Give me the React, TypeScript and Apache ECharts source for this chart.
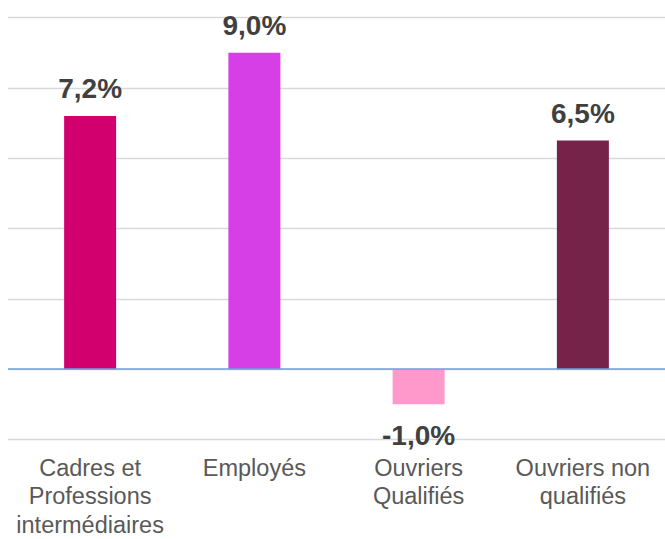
import React, { useEffect, useRef } from "react";
import * as echarts from "echarts";

const categories = [
  "Cadres et\nProfessions\nintermédiaires",
  "Employés",
  "Ouvriers\nQualifiés",
  "Ouvriers non\nqualifiés",
];
const values = [7.2, 9.0, -1.0, 6.5];
const barColors = ["#D2006F", "#D63FE6", "#FF99CC", "#76234A"];
const yMin = -2;
const yMax = 10;
const yStep = 2;

const fmt = (v: number) => v.toFixed(1).replace(".", ",") + "%";

export default function App() {
  const ref = useRef<HTMLDivElement>(null);
  useEffect(() => {
    if (!ref.current) return;
    const chart = echarts.init(ref.current, null, { renderer: "svg", width: 665, height: 539 });
    chart.setOption({
      animation: false,
      grid: { left: 8, width: 657, top: 17.5, height: 429.5, containLabel: false },
      xAxis: {
        type: "category",
        data: categories,
        position: "bottom",
        axisLine: { show: false, onZero: false },
        axisTick: { show: false },
        axisLabel: {
          interval: 0,
          margin: 14,
          color: "#595959",
          fontSize: 23.5,
          lineHeight: 28.5,
          fontFamily: "Liberation Sans, Arial, sans-serif",
        },
      },
      yAxis: {
        type: "value",
        min: yMin,
        max: yMax,
        interval: yStep,
        axisLabel: { show: false },
        axisLine: { show: false },
        axisTick: { show: false },
        splitLine: { lineStyle: { color: "#D9D9D9", width: 1.3 } },
      },
      series: [
        {
          type: "bar",
          barWidth: 52,
          data: values.map((v, i) => ({
            value: v,
            itemStyle: { color: barColors[i] },
            label: v < 0 ? { position: "bottom", distance: 17 } : { position: "top", distance: 13 },
          })),
          label: {
            show: true,
            formatter: (p: any) => fmt(p.value),
            color: "#404040",
            fontWeight: "bold",
            fontSize: 28,
            fontFamily: "Liberation Sans, Arial, sans-serif",
          },
          markLine: {
            silent: true,
            symbol: "none",
            label: { show: false },
            lineStyle: { color: "#6FA0D8", width: 1.5, type: "solid" },
            data: [{ yAxis: 0 }],
          },
        },
      ],
    });
    return () => chart.dispose();
  }, []);
  return (
    <div
      ref={ref}
      style={{ position: "absolute", left: 0, top: 0, width: 665, height: 539, overflow: "hidden" }}
    />
  );
}
